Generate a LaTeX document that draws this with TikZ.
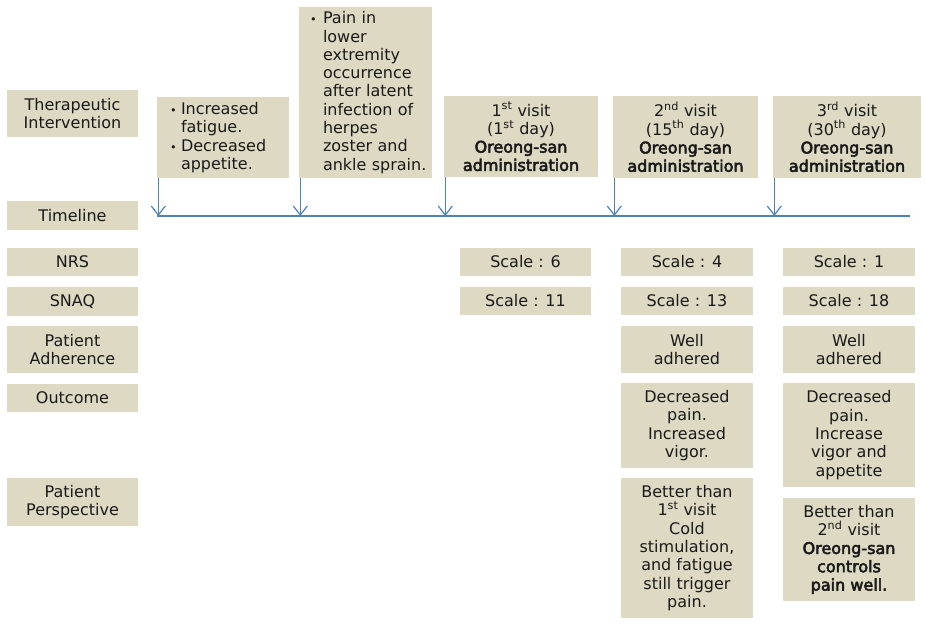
\documentclass[tikz,border=0pt]{standalone}
\usepackage{fontspec}
\setmainfont{DejaVu Sans}
\newfontfamily\bfam{DejaVu Sans}[FakeBold=3.2]
\usetikzlibrary{arrows.meta,calc}
\definecolor{boxfill}{HTML}{DDD9C3}
\definecolor{tlblue}{HTML}{4F81BD}
\definecolor{txt}{HTML}{1A1A1A}
\newcommand\mybox[6]{%
  \node[box, minimum width={(#4-#2)*1pt}, minimum height={(#5-#3)*1pt}]
    (#1) at ({(#2+#4)/2},{(#3+#5)/2}) {#6};}
\newcommand\bb[1]{{\bfam #1}}
\newcommand\bul[2]{\hspace*{#1pt}\makebox[#2pt][l]{\scalebox{0.7}{•}}}
\newcommand\ind[1]{\hspace*{#1pt}}
\begin{document}
\begin{tikzpicture}[x=1pt,y=-1pt,
  box/.style={fill=boxfill, draw=none, inner sep=0pt, align=center, text=txt,
    font=\fontsize{16}{18.3}\selectfont},
  arr/.style={draw=tlblue, line width=1.4pt, -{Straight Barb[length=9pt,width=14pt,line width=1.2pt]}},
  tline/.style={draw=tlblue, line width=1.8pt}]
\useasboundingbox (0,0) rectangle (925,624);
% left column
\mybox{ther}{7}{90}{138}{137}{Therapeutic\\Intervention}
\mybox{tl}{7}{201}{138}{230}{Timeline}
\mybox{nrs}{7}{248}{138}{276}{NRS}
\mybox{snaq}{7}{287}{138}{316}{SNAQ}
\mybox{adh}{7}{326}{138}{373}{Patient\\Adherence}
\mybox{outc}{7}{384}{138}{412}{Outcome}
\mybox{persp}{7}{478}{138}{526}{Patient\\Perspective}
% top events
\node[box, align=left, text width=132pt, minimum height=81pt] (ea) at (223,137.5)
  {\bul{13}{11}Increased\\\ind{24}fatigue.\\\bul{13}{11}Decreased\\\ind{24}appetite.};
\node[box, align=left, text width=133pt, minimum height=171pt] (eb) at (365.5,92.5)
  {\bul{11}{13}Pain in\\\ind{24}lower\\\ind{24}extremity\\\ind{24}occurrence\\\ind{24}after latent\\\ind{24}infection of\\\ind{24}herpes\\\ind{24}zoster and\\\ind{24}ankle sprain.};
\mybox{v1}{444}{96}{598}{177}{1\textsuperscript{st} visit\\(1\textsuperscript{st} day)\\\bb{Oreong-san}\\\bb{administration}}
\mybox{v2}{613}{96}{758}{178}{2\textsuperscript{nd} visit\\(15\textsuperscript{th} day)\\\bb{Oreong-san}\\\bb{administration}}
\mybox{v3}{773}{96}{921}{178}{3\textsuperscript{rd} visit\\(30\textsuperscript{th} day)\\\bb{Oreong-san}\\\bb{administration}}
% timeline
\coordinate (tls) at (157,216);
\coordinate (tle) at (910,216);
\draw[tline] (tls) -- (tle);
\foreach \b in {ea,eb,v1,v2,v3}{
  \draw[arr] ([xshift=1.5pt]\b.south west) -- ([xshift=1.5pt]\b.south west |- tls);
}
% NRS
\mybox{n1}{460}{248}{591}{276}{Scale : 6}
\mybox{n2}{621}{248}{753}{276}{Scale : 4}
\mybox{n3}{783}{248}{915}{276}{Scale : 1}
% SNAQ
\mybox{s1}{460}{287}{591}{315}{Scale : 11}
\mybox{s2}{621}{287}{753}{315}{Scale : 13}
\mybox{s3}{783}{287}{915}{315}{Scale : 18}
% adherence
\mybox{a2}{621}{326}{753}{373}{Well\\adhered}
\mybox{a3}{783}{326}{915}{373}{Well\\adhered}
% outcome
\mybox{o2}{621}{383}{753}{468}{Decreased\\pain.\\Increased\\vigor.}
\mybox{o3}{783}{383}{915}{487}{Decreased\\pain.\\Increase\\vigor and\\appetite}
% perspective
\mybox{p2}{621}{478}{753}{618}{Better than\\1\textsuperscript{st} visit\\Cold\\stimulation,\\and fatigue\\still trigger\\pain.}
\mybox{p3}{783}{498}{915}{601}{Better than\\2\textsuperscript{nd} visit\\\bb{Oreong-san}\\\bb{controls}\\\bb{pain well.}}
\end{tikzpicture}
\end{document}
